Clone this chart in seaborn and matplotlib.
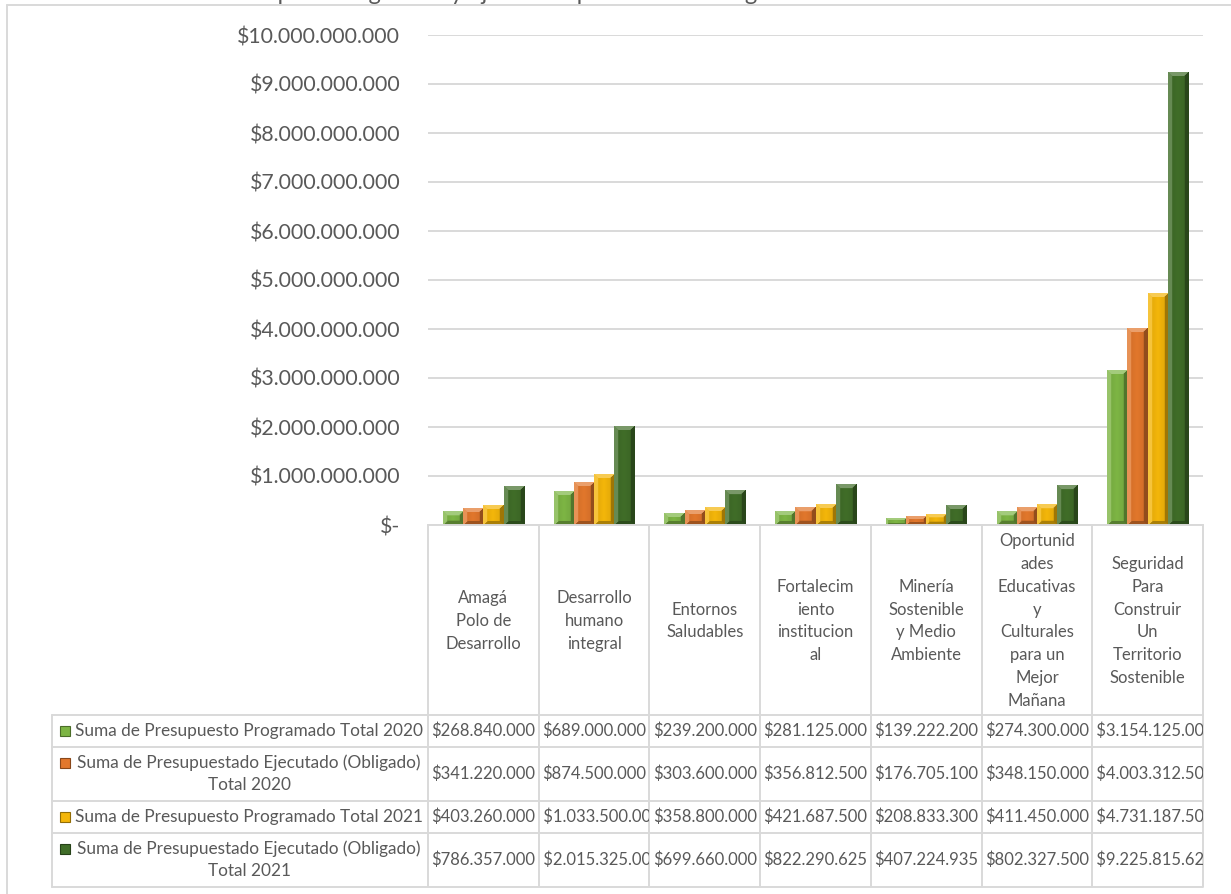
import numpy as np
import pandas as pd
import matplotlib
matplotlib.use("Agg")
import matplotlib.pyplot as plt
import matplotlib.transforms as mtransforms
from matplotlib.patches import Rectangle
import seaborn as sns

# ---------------- data ----------------
categorias = [
    "Amagá\nPolo de\nDesarrollo",
    "Desarrollo\nhumano\nintegral",
    "Entornos\nSaludables",
    "Fortalecim\niento\ninstitucion\nal",
    "Minería\nSostenible\ny Medio\nAmbiente",
    "Oportunid\nades\nEducativas\ny\nCulturales\npara un\nMejor\nMañana",
    "Seguridad\nPara\nConstruir\nUn\nTerritorio\nSostenible",
]
series = [
    "Suma de Presupuesto Programado Total 2020",
    "Suma de Presupuestado Ejecutado (Obligado)\nTotal 2020",
    "Suma de Presupuesto Programado Total 2021",
    "Suma de Presupuestado Ejecutado (Obligado)\nTotal 2021",
]
programado_2020 = [268840000, 689000000, 239200000, 281125000, 139222200, 274300000, 3154125000]
ejecutado_2020 = [341220000, 874500000, 303600000, 356812500, 176705100, 348150000, 4003312500]
programado_2021 = [403260000, 1033500000, 358800000, 421687500, 208833300, 411450000, 4731187500]
ejecutado_2021 = [786357000, 2015325000, 699660000, 822290625, 407224935, 802327500, 9225815625]
y_ticks = [0, 1e9, 2e9, 3e9, 4e9, 5e9, 6e9, 7e9, 8e9, 9e9, 1e10]
titulo = "Comparativo general y ejecutado por línea estratégica"
colores = ["#7DB544", "#E2772C", "#F4B60A", "#406D28"]

valores = [programado_2020, ejecutado_2020, programado_2021, ejecutado_2021]


def pesos(v):
    if v == 0:
        return "$-"
    return "$" + f"{v:,.0f}".replace(",", ".")


df = pd.DataFrame(
    [(c, s, v) for s, vals in zip(series, valores) for c, v in zip(categorias, vals)],
    columns=["categoria", "serie", "valor"],
)

# ---------------- style ----------------
sns.set_theme(style="white")
plt.rcParams["font.family"] = ["Lato", "DejaVu Sans"]
TXT = "#595959"
GRID = "#D9D9D9"

W, H = 1231, 894
fig = plt.figure(figsize=(W / 100, H / 100), dpi=100)
fig.patch.set_facecolor("white")

PL, PR, PT, PB = 428, 1203, 35, 525
ax = fig.add_axes([PL / W, 1 - PB / H, (PR - PL) / W, (PB - PT) / H])

sns.barplot(
    data=df, x="categoria", y="valor", hue="serie", order=categorias,
    hue_order=series, palette=colores, saturation=1, width=0.73, gap=0,
    linewidth=0, legend=False, ax=ax, errorbar=None,
)

ax.set_xlim(-0.5, len(categorias) - 0.5)
ax.set_ylim(0, y_ticks[-1])
ax.set_yticks(y_ticks)
ax.set_yticklabels([pesos(v) for v in y_ticks])
ax.tick_params(axis="y", length=0, pad=20, labelsize=15.3, labelcolor=TXT)
ax.tick_params(axis="x", length=0, labelbottom=False)
ax.set_xlabel("")
ax.set_ylabel("")
ax.yaxis.grid(True, color=GRID, lw=1.4)
ax.set_axisbelow(True)
for s in ["left", "right", "top"]:
    ax.spines[s].set_visible(False)
ax.spines["bottom"].set_color(GRID)
ax.spines["bottom"].set_linewidth(1.4)

# bevel shading of bars
px_per_unit_y = (PB - PT) / y_ticks[-1]
px_per_unit_x = (PR - PL) / len(categorias)


def lighten(c, t):
    return c + (1 - c) * t


for p in list(ax.patches):
    x0, y0 = p.get_x(), p.get_y()
    w, h = p.get_width(), p.get_height()
    if h <= 0:
        continue
    base = np.array(matplotlib.colors.to_rgb(p.get_facecolor()))
    hp = max(int(round(h * px_per_unit_y)), 2)
    wp = max(int(round(w * px_per_unit_x)), 2)
    b = max(1, min(4, hp // 3))
    yy, xx = np.mgrid[0:hp, 0:wp]
    dl, dr, dt, db = xx, wp - 1 - xx, yy, hp - 1 - yy
    img = np.tile(base, (hp, wp, 1))
    g = 1 - 0.10 * np.abs((xx - wp * 0.45) / (wp / 2))
    img = img * g[..., None]
    dmin = np.minimum(np.minimum(dl, dr), np.minimum(dt, db))
    edge = dmin < b
    left = edge & (dl == dmin)
    right = edge & (dr == dmin) & ~left
    top = edge & (dt == dmin) & ~left & ~right
    bottom = edge & (db == dmin) & ~left & ~right & ~top
    img[left] = lighten(base, 0.2)
    img[right] = base * 0.65
    img[top] = lighten(base, 0.3)
    img[bottom] = base * 0.7
    img = np.clip(img, 0, 1)
    ax.imshow(img, extent=[x0, x0 + w, y0, y0 + h], origin="upper",
              aspect="auto", interpolation="bilinear", zorder=2)
ax.set_xlim(-0.5, len(categorias) - 0.5)
ax.set_ylim(0, y_ticks[-1])

# ---------------- data table overlay ----------------
ax2 = fig.add_axes([0, 0, 1, 1], zorder=5)
ax2.set_xlim(0, W)
ax2.set_ylim(H, 0)
ax2.axis("off")
ax2.patch.set_alpha(0)
blend = mtransforms.blended_transform_factory(ax.transData, ax2.transData)

CAT_BOTTOM = 715
row_tops = [715, 747, 801, 833]
TABLE_BOTTOM = 887
TABLE_LEFT = 52
LW = 1.4

# outer frame (top and left visible)
ax2.plot([7, W], [5, 5], color=GRID, lw=LW)
ax2.plot([7, 7], [5, H], color=GRID, lw=LW)

n = len(categorias)
for k in range(n + 1):
    xb = k - 0.5
    ax2.plot([xb, xb], [PB, TABLE_BOTTOM], color=GRID, lw=LW, transform=blend,
             solid_capstyle="butt")
ax2.plot([TABLE_LEFT, TABLE_LEFT], [row_tops[0], TABLE_BOTTOM], color=GRID, lw=LW)
for yline in row_tops + [TABLE_BOTTOM]:
    ax2.plot([TABLE_LEFT, PR], [yline, yline], color=GRID, lw=LW)

# category labels
for i, c in enumerate(categorias):
    ax2.text(i, (PB + CAT_BOTTOM) / 2 + 1, c, transform=blend, ha="center",
             va="center", multialignment="center", fontsize=12, color=TXT,
             linespacing=1.53)

# rows
row_bottoms = row_tops[1:] + [TABLE_BOTTOM]
for r, (s, vals) in enumerate(zip(series, valores)):
    yt, yb = row_tops[r], row_bottoms[r]
    yc = (yt + yb) / 2
    ax2.text(249, yc, s, ha="center", va="center", multialignment="center",
             fontsize=12.4, color=TXT, linespacing=1.45)
    two = "\n" in s
    my = yc - 11 if two else yc
    ax2.add_patch(Rectangle((60, my - 5), 10, 10, facecolor=colores[r],
                            edgecolor=np.array(matplotlib.colors.to_rgb(colores[r])) * 0.6,
                            lw=0.8))
    for i, v in enumerate(vals):
        txt = pesos(v)
        clipbox = mtransforms.TransformedBbox(
            mtransforms.Bbox.from_extents(i - 0.5, yt, i + 0.5, yb), blend)
        if len(txt) > 12:
            t = ax2.text(i - 0.5, yc, " " + txt, transform=blend, ha="left",
                         va="center", fontsize=12, color=TXT)
        else:
            t = ax2.text(i, yc, txt, transform=blend, ha="center",
                         va="center", fontsize=12, color=TXT)
        t.set_clip_box(clipbox)
        t.set_clip_on(True)

# title (the reference shows only its lowest part at the top edge)
fig.text(507 / W, 1.0, titulo, ha="center", va="baseline", fontsize=17,
         color=TXT)

fig.savefig("out.png", dpi=100, facecolor="white")
